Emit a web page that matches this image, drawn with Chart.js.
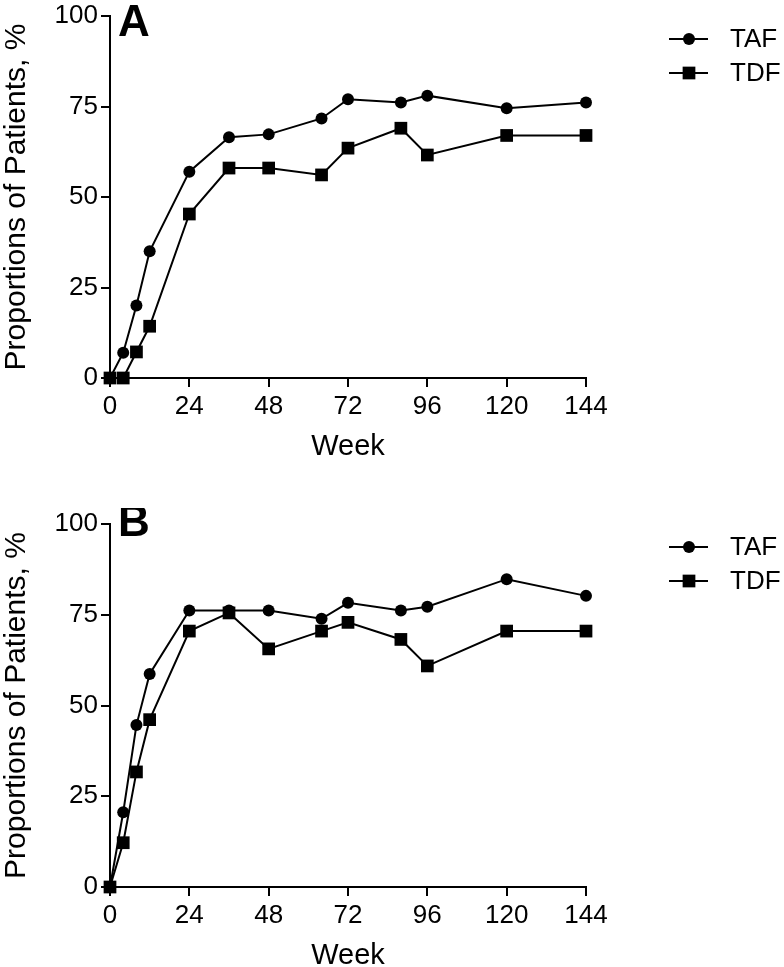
<!DOCTYPE html>
<html>
<head>
<meta charset="utf-8">
<script src="https://cdn.jsdelivr.net/npm/chart.js@4/dist/chart.umd.min.js"></script>
<style>
  body { margin: 0; background: #fff; width: 784px; height: 967px; overflow: hidden; position: relative; }
  .panel { position: absolute; left: 0; width: 784px; }
</style>
</head>
<body>
<div class="panel" style="top:0"><canvas id="chartA" width="784" height="468"></canvas></div>
<div class="panel" style="top:508px"><canvas id="chartB" width="784" height="469"></canvas></div>
<script>
const weeks = [0, 4, 8, 12, 24, 36, 48, 64, 72, 88, 96, 120, 144];
const weekTicks = [0, 24, 48, 72, 96, 120, 144];
const percentTicks = [0, 25, 50, 75, 100];

// panel A
const tafA = [0, 7, 20, 35, 57, 66.5, 67.3, 71.7, 77, 76.1, 78, 74.5, 76.1];
const tdfA = [0, 0, 7.2, 14.3, 45.3, 58, 58, 56.1, 63.5, 69, 61.6, 67, 67];
// panel B
const tafB = [0, 20.6, 44.6, 58.7, 76.2, 76.2, 76.2, 73.9, 78.3, 76.2, 77.2, 84.8, 80.2];
const tdfB = [0, 12.2, 31.7, 46.1, 70.5, 75.5, 65.6, 70.5, 72.9, 68.2, 60.9, 70.5, 70.5];

const FONT = "'Liberation Sans', Arial, Helvetica, sans-serif";

function toPoints(xs, ys) {
  return xs.map((x, i) => ({ x: x, y: ys[i] }));
}

// draws the panel letter and a legend with line + marker
const panelDecor = {
  id: 'panelDecor',
  afterDraw(chart, args, opts) {
    const ctx = chart.ctx;
    const area = chart.chartArea;
    ctx.save();
    ctx.fillStyle = '#000';
    ctx.font = 'bold 44px ' + FONT;
    ctx.textBaseline = 'alphabetic';
    ctx.textAlign = 'left';
    ctx.fillText(opts.letter, area.left + 8, area.top + opts.letterDy);

    const order = [1, 0];
    order.forEach((di, row) => {
      const ds = chart.data.datasets[di];
      const y = area.top + 23 + row * 34;
      const x0 = area.right + 83;
      ctx.strokeStyle = '#000';
      ctx.lineWidth = 2;
      ctx.beginPath();
      ctx.moveTo(x0, y);
      ctx.lineTo(x0 + 39, y);
      ctx.stroke();
      ctx.fillStyle = '#000';
      Chart.helpers.drawPoint(ctx, { pointStyle: ds.pointStyle, radius: ds.pointRadius, rotation: 0, borderWidth: 0 }, x0 + 20, y);
      ctx.font = '26px ' + FONT;
      ctx.textBaseline = 'middle';
      ctx.fillText(ds.label, x0 + 61, y + 1);
    });
    ctx.restore();
  }
};

function makeChart(id, letter, letterDy, taf, tdf) {
  return new Chart(document.getElementById(id), {
    type: 'line',
    data: {
      datasets: [
        {
          label: 'TDF',
          data: toPoints(weeks, tdf),
          order: 0,
          borderColor: '#000',
          backgroundColor: '#000',
          borderWidth: 2,
          pointStyle: 'rect',
          pointRadius: 9,
          pointBorderWidth: 0,
          tension: 0,
          clip: false
        },
        {
          label: 'TAF',
          data: toPoints(weeks, taf),
          order: 1,
          borderColor: '#000',
          backgroundColor: '#000',
          borderWidth: 2,
          pointStyle: 'circle',
          pointRadius: 6,
          pointBorderWidth: 0,
          tension: 0,
          clip: false
        }
      ]
    },
    options: {
      responsive: false,
      animation: false,
      layout: { padding: { top: 15, right: 198, left: 0, bottom: 0 } },
      plugins: {
        legend: { display: false },
        tooltip: { enabled: false },
        panelDecor: { letter: letter, letterDy: letterDy }
      },
      scales: {
        x: {
          type: 'linear',
          min: 0,
          max: 144,
          afterFit(scale) { scale.height = 90; },
          afterBuildTicks(scale) { scale.ticks = weekTicks.map(v => ({ value: v })); },
          grid: { drawOnChartArea: false, drawTicks: true, tickLength: 9, color: '#000', lineWidth: 2 },
          border: { display: true, color: '#000', width: 2 },
          ticks: { color: '#000', font: { family: FONT, size: 26 }, padding: 4, maxRotation: 0 },
          title: { display: true, text: 'Week', color: '#000', font: { family: FONT, size: 29 }, padding: { top: 0, bottom: 4 } }
        },
        y: {
          min: 0,
          max: 100,
          afterFit(scale) { scale.width = 110; },
          afterBuildTicks(scale) { scale.ticks = percentTicks.map(v => ({ value: v })); },
          grid: { drawOnChartArea: false, drawTicks: true, tickLength: 9, color: '#000', lineWidth: 2 },
          border: { display: true, color: '#000', width: 2 },
          ticks: { color: '#000', font: { family: FONT, size: 26, lineHeight: 1 }, padding: 3 },
          title: { display: true, text: 'Proportions of Patients, %', color: '#000', font: { family: FONT, size: 30, lineHeight: 1 }, padding: { top: 2, bottom: 0 } }
        }
      }
    },
    plugins: [panelDecor]
  });
}

makeChart('chartA', 'A', 20, tafA, tdfA);
makeChart('chartB', 'B', 12, tafB, tdfB);
</script>
</body>
</html>
